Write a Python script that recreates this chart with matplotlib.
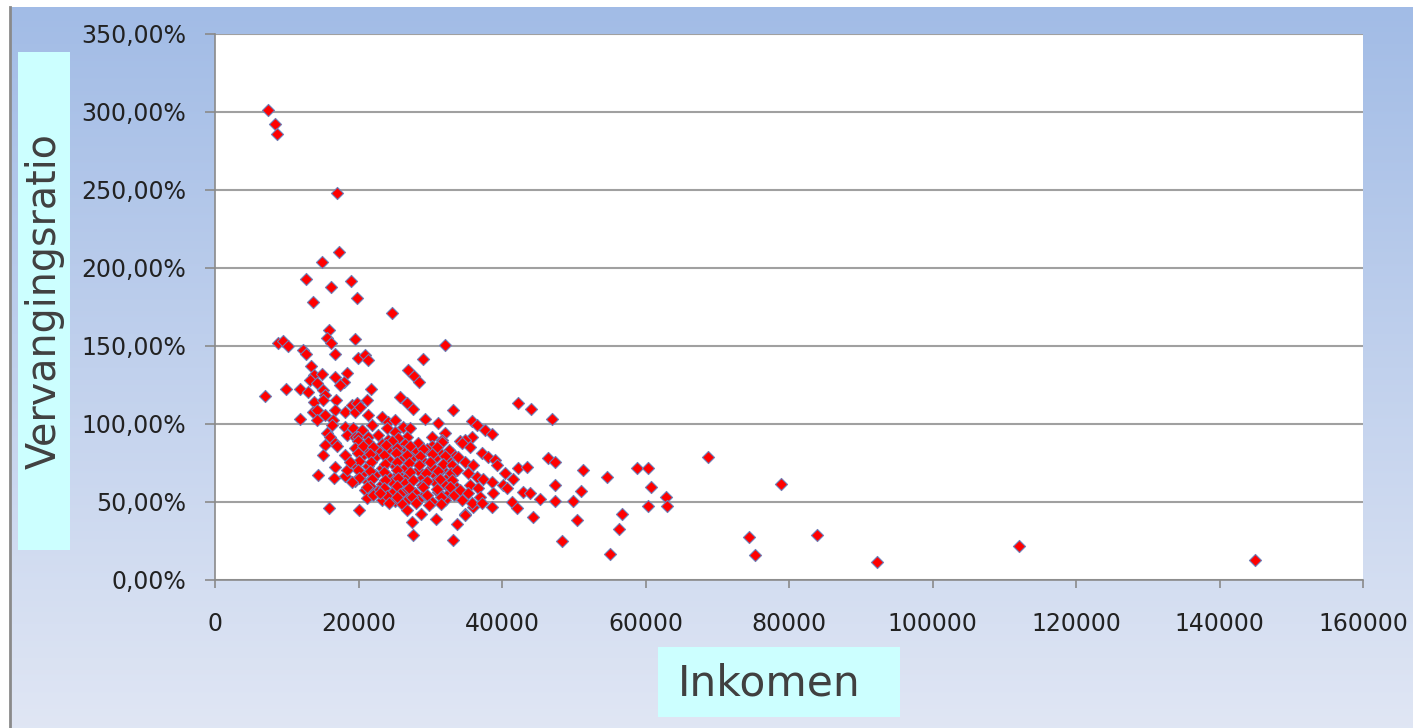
import numpy as np
import matplotlib
matplotlib.use("Agg")
import matplotlib.pyplot as plt
from matplotlib.patches import Rectangle
from matplotlib.lines import Line2D
from matplotlib.ticker import FuncFormatter, MultipleLocator

# income (x 1000 euro) and replacement ratio (%)
# high ratios, mostly low incomes
inkomen_hoog = [7.39, 8.36, 8.64, 17.01, 17.29, 14.92, 12.69, 18.96, 16.17, 19.79,
                13.66, 24.67, 15.89, 15.61, 16.17, 19.52, 8.78, 9.48, 10.18, 32.06,
                12.27, 12.69, 16.73, 19.93, 20.91, 21.33, 29.00, 13.38, 26.90, 27.74,
                28.44, 13.80, 14.92, 13.24, 14.22, 16.73, 18.40, 17.98, 17.43, 9.90,
                11.85, 15.06, 21.75, 12.96]
ratio_hoog = [301.3, 292.3, 285.9, 248.1, 210.2, 203.8, 192.9, 191.7, 187.8, 180.8,
              178.2, 171.1, 160.3, 155.1, 151.9, 154.5, 151.9, 153.2, 150.0, 150.6,
              147.4, 144.9, 144.9, 142.3, 144.2, 141.0, 141.7, 137.2, 134.6, 130.8,
              126.9, 131.4, 132.0, 128.2, 126.3, 130.1, 132.7, 126.9, 125.0, 122.4,
              122.4, 121.8, 122.4, 120.5]

# upper part of the cloud (roughly 85-120 %)
inkomen_midden = [6.97, 15.33, 13.80, 15.06, 16.87, 25.79, 26.76, 27.60, 33.18, 13.66,
                  14.22, 15.33, 16.73, 18.12, 19.10, 19.79, 19.52, 21.19, 20.21, 11.85,
                  14.22, 16.45, 16.31, 15.61, 16.03, 18.12, 18.40, 19.24, 19.52, 16.73,
                  21.33, 23.28, 24.12, 25.09, 29.27, 31.09, 32.06, 30.25, 31.64, 42.24,
                  44.05, 46.98, 35.83, 36.52, 37.64, 38.61, 35.83, 34.15, 34.85, 21.89,
                  20.49, 19.93, 21.33, 22.72, 23.98, 25.09, 26.21, 27.18, 26.76, 25.51,
                  24.12]
ratio_midden = [117.9, 118.6, 114.1, 115.4, 115.4, 117.3, 113.5, 109.6, 109.0, 107.7,
                109.0, 105.8, 109.0, 107.7, 112.2, 113.5, 107.7, 115.4, 110.9, 103.2,
                102.6, 102.6, 99.4, 94.2, 91.7, 98.1, 92.9, 97.4, 91.7, 87.8,
                105.8, 104.5, 101.3, 102.6, 103.2, 100.6, 94.2, 91.7, 89.7, 113.5,
                109.6, 103.2, 101.9, 99.4, 96.2, 93.6, 91.7, 89.1, 89.7, 99.4,
                96.2, 91.7, 91.7, 92.9, 97.4, 94.9, 98.1, 97.4, 91.7, 91.0,
                89.7]

# dense core of the cloud (roughly 45-90 %)
inkomen_kern = [19.93, 21.33, 23.28, 24.67, 26.49, 28.30, 30.25, 31.64,
                19.52, 20.91, 22.72, 24.12, 26.07, 27.88, 29.55, 31.09, 33.04,
                20.49, 22.30, 24.12, 26.07, 27.46, 28.86, 30.67, 32.48,
                19.52, 21.33, 23.28, 25.09, 26.49, 28.30, 30.25, 31.64, 33.46,
                20.49, 22.30, 24.12, 25.51, 26.90, 28.86, 30.67, 32.48,
                19.52, 21.33, 23.28, 24.67, 26.49, 28.86, 30.67, 32.06, 33.46,
                20.91, 22.72, 24.67, 26.49, 27.88, 29.27, 31.09, 32.48,
                21.19, 23.28, 25.09, 26.90, 28.30, 30.25, 32.06]
ratio_kern = [89.0, 88.2, 87.4, 88.8, 86.9, 87.6, 86.1, 88.3,
              84.6, 83.9, 82.5, 84.1, 83.0, 81.8, 84.0, 82.7, 81.2,
              79.4, 78.6, 77.5, 79.0, 78.1, 76.8, 78.5, 77.2,
              73.6, 72.9, 71.5, 73.2, 72.0, 70.8, 72.6, 71.4, 70.1,
              68.2, 67.6, 66.4, 68.0, 66.9, 65.7, 67.3, 66.2,
              63.5, 62.7, 61.6, 63.0, 62.1, 60.9, 62.6, 61.3, 60.2,
              57.4, 56.8, 55.6, 57.1, 56.0, 55.2, 56.7, 55.4,
              52.3, 51.5, 50.4, 52.0, 51.1, 49.8, 51.6]

# second layer of the core, between the rows above
inkomen_kern2 = [20.6, 22.0, 23.9, 25.4, 27.2, 29.0, 30.9, 32.6,
                 19.9, 21.6, 23.5, 25.2, 26.8, 28.6, 30.2, 32.0, 33.8,
                 20.0, 21.8, 23.7, 25.4, 27.0, 28.5, 30.0, 31.8, 33.0,
                 19.9, 21.6, 23.5, 25.3, 27.2, 29.4, 31.1, 32.9,
                 20.0, 21.9, 23.7, 25.5, 27.6, 29.6, 31.4, 33.0,
                 21.6, 23.5, 25.3, 27.1, 29.0, 30.9, 32.8,
                 22.0, 24.0, 25.8, 27.5, 29.6, 31.5, 33.3,
                 24.2, 26.0, 28.0, 29.8, 31.5]
ratio_kern2 = [86.2, 85.1, 86.6, 84.8, 85.7, 84.0, 85.3, 83.6,
               81.4, 80.6, 79.9, 81.2, 80.1, 79.3, 80.8, 79.6, 78.9,
               76.1, 75.4, 74.6, 75.9, 74.8, 74.0, 75.5, 74.3, 73.5,
               70.6, 69.8, 69.0, 70.3, 69.4, 68.5, 69.9, 68.8,
               65.4, 64.6, 63.9, 65.1, 64.2, 63.4, 64.8, 63.8,
               60.1, 59.2, 60.4, 58.8, 59.6, 58.4, 59.9,
               54.6, 53.8, 54.9, 53.4, 54.2, 53.0, 54.5,
               49.2, 48.4, 49.5, 48.0, 48.8]

# edges of the cloud
inkomen_rand = [15.33, 17.01, 15.06, 18.12, 16.73, 14.36, 16.59, 18.12, 19.10, 15.89,
                20.07, 18.40, 18.82, 21.19, 23.00, 25.37, 26.76, 27.46, 27.60, 28.72,
                30.81, 33.73, 34.85, 35.97, 33.18,
                34.43, 35.55, 37.22, 38.06, 39.03, 39.31, 46.42, 47.40, 34.85, 35.97,
                33.73, 35.27, 36.52, 37.36, 38.61, 40.43, 41.54, 42.24, 43.49, 47.40,
                35.55, 36.66, 34.15, 35.27, 36.94, 38.75, 40.15, 40.70, 42.94, 43.91,
                45.31, 47.40, 34.43, 35.83, 37.22, 38.61, 41.40, 42.10, 34.85, 44.33,
                48.37]
ratio_rand = [86.5, 85.9, 80.1, 80.1, 72.4, 67.3, 65.4, 66.7, 62.8, 46.2,
              44.9, 70.5, 75.6, 59.6, 55.8, 53.2, 44.9, 37.2, 28.8, 42.3,
              39.1, 35.9, 42.3, 46.8, 25.6,
              87.8, 85.3, 81.4, 78.8, 76.9, 73.7, 78.2, 75.6, 75.6, 73.7,
              70.5, 68.6, 66.0, 64.7, 62.8, 68.6, 64.7, 71.8, 72.4, 60.9,
              60.9, 59.0, 57.7, 55.8, 53.2, 55.8, 60.9, 59.0, 56.4, 55.8,
              51.9, 50.6, 51.3, 49.4, 49.4, 46.8, 50.0, 46.2, 41.7, 40.4,
              25.0]

# high incomes
inkomen_staart = [68.72, 78.90, 51.30, 54.64, 58.83, 60.36, 60.78, 51.02, 49.91, 62.87,
                  63.01, 60.36, 56.74, 50.46, 56.32, 55.06, 74.44, 75.28, 83.92, 92.28,
                  112.08, 144.98]
ratio_staart = [78.8, 61.5, 70.5, 66.0, 71.8, 71.8, 59.6, 57.0, 50.6, 53.2,
                47.4, 47.4, 42.3, 38.5, 32.7, 16.7, 27.6, 16.0, 28.8, 11.5,
                21.8, 12.8]

inkomen = np.array(inkomen_hoog + inkomen_midden + inkomen_kern + inkomen_kern2
                   + inkomen_rand + inkomen_staart) * 1000
ratio = np.array(ratio_hoog + ratio_midden + ratio_kern + ratio_kern2
                 + ratio_rand + ratio_staart)

W, H = 1413, 728
fig = plt.figure(figsize=(W / 100, H / 100), dpi=100)
fig.patch.set_facecolor("white")

# gradient background
bg = fig.add_axes([10 / W, 0, 1 - 10 / W, 721 / H], zorder=0)
top = np.array([0.635, 0.737, 0.902])
bottom = np.array([0.878, 0.902, 0.957])
t = np.linspace(0, 1, 256)[:, None]
grad = (top * (1 - t) + bottom * t)[:, None, :]
bg.imshow(grad, aspect="auto", extent=[0, 1, 0, 1])
bg.axis("off")
fig.add_artist(Line2D([10 / W, 10 / W], [0, 721 / H], color="#8a8a8a", lw=2))

ax = fig.add_axes([215 / W, 1 - 580 / H, 1148 / W, 546 / H], zorder=2)
ax.set_facecolor("white")
ax.scatter(inkomen, ratio, marker="D", s=38, facecolor="#ff0000",
           edgecolor="#6f7fb8", linewidths=0.8, zorder=3, clip_on=False)

ax.set_xlim(0, 160000)
ax.set_ylim(0, 350)
ax.xaxis.set_major_locator(MultipleLocator(20000))
ax.yaxis.set_major_locator(MultipleLocator(50))
ax.yaxis.set_major_formatter(FuncFormatter(lambda v, _: f"{v:.2f}".replace(".", ",") + "%"))
ax.xaxis.set_major_formatter(FuncFormatter(lambda v, _: f"{int(v)}"))

ax.yaxis.grid(True, color="#a0a0a0", lw=1.5)
ax.set_axisbelow(True)
ax.get_ygridlines()[-1].set_visible(False)
for s in ["top", "right"]:
    ax.spines[s].set_visible(False)
for s in ["left", "bottom"]:
    ax.spines[s].set_color("#8a8a8a")
    ax.spines[s].set_linewidth(1.2)
ax.tick_params(axis="y", direction="out", length=7, width=1.2, color="#8a8a8a",
               labelsize=17, labelcolor="#222222", pad=14)
ax.tick_params(axis="x", direction="out", length=6, width=1.2, color="#8a8a8a",
               labelsize=17, labelcolor="#222222", pad=17)

# axis titles in cyan boxes
fig.add_artist(Rectangle((18 / W, 1 - 550 / H), 52 / W, 498 / H,
                         transform=fig.transFigure, facecolor="#ccffff", edgecolor="none", zorder=1))
fig.text(45 / W, 1 - 301 / H, "Vervangingsratio", rotation=90, ha="center", va="center",
         fontsize=28.5, color="#404040", zorder=3)
fig.add_artist(Rectangle((658 / W, 1 - 717 / H), 242 / W, 70 / H,
                         transform=fig.transFigure, facecolor="#ccffff", edgecolor="none", zorder=1))
fig.text(678 / W, 1 - 683 / H, "Inkomen", ha="left", va="center",
         fontsize=30.5, color="#404040", zorder=3)

fig.savefig("out.png", dpi=100)
